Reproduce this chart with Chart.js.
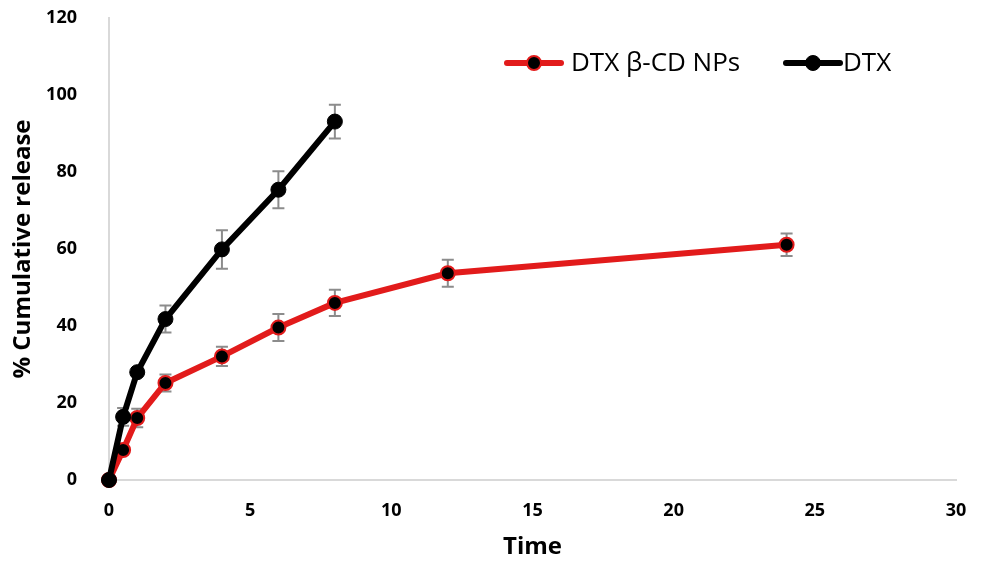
<!DOCTYPE html>
<html>
<head>
<meta charset="utf-8">
<script src="https://cdn.jsdelivr.net/npm/chart.js@4/dist/chart.umd.min.js"></script>
<style>
  html, body { margin: 0; padding: 0; background: #fff; }
  #chart { display: block; }
</style>
</head>
<body>
<canvas id="chart" width="981" height="562"></canvas>
<script>
// Datos
const nanoTime = [0, 0.5, 1, 2, 4, 6, 8, 12, 24];
const nanoRelease = [0, 7.8, 16.1, 25.2, 32.1, 39.6, 46.0, 53.7, 61.1];
const nanoError = [0, 1.0, 2.4, 2.2, 2.5, 3.5, 3.4, 3.5, 2.9];

const dtxTime = [0, 0.5, 1, 2, 4, 6, 8];
const dtxRelease = [0, 16.4, 28.0, 41.8, 59.9, 75.4, 93.1];
const dtxError = [0, 2.3, 1.0, 3.5, 5.0, 4.8, 4.4];

const xTicks = [0, 5, 10, 15, 20, 25, 30];
const yTicks = [0, 20, 40, 60, 80, 100, 120];

const toPoints = (xs, ys) => xs.map((x, i) => ({ x: x, y: ys[i] }));

// Barras de error (Chart.js no las trae de serie)
const errorBarPlugin = {
  id: 'errorBars',
  beforeDatasetsDraw(chart) {
    const ctx = chart.ctx;
    const yScale = chart.scales.y;
    ctx.save();
    ctx.strokeStyle = '#8c8c8c';
    ctx.lineWidth = 2;
    chart.data.datasets.forEach((ds, di) => {
      const meta = chart.getDatasetMeta(di);
      (ds.errors || []).forEach((e, i) => {
        if (!e) return;
        const pt = meta.data[i];
        const v = ds.data[i].y;
        const top = yScale.getPixelForValue(v + e);
        const bot = yScale.getPixelForValue(v - e);
        ctx.beginPath();
        ctx.moveTo(pt.x, top); ctx.lineTo(pt.x, bot);
        ctx.moveTo(pt.x - 6, top); ctx.lineTo(pt.x + 6, top);
        ctx.moveTo(pt.x - 6, bot); ctx.lineTo(pt.x + 6, bot);
        ctx.stroke();
      });
    });
    ctx.restore();
  }
};

// Leyenda estilo Excel: línea con marcador y texto
const lineLegendPlugin = {
  id: 'lineLegend',
  afterDraw(chart, args, opts) {
    const ctx = chart.ctx;
    ctx.save();
    ctx.font = opts.font;
    ctx.textBaseline = 'middle';
    opts.items.forEach(item => {
      const ds = chart.data.datasets[item.index];
      ctx.strokeStyle = ds.borderColor;
      ctx.lineWidth = 6;
      ctx.lineCap = 'round';
      ctx.beginPath();
      ctx.moveTo(item.x, opts.y);
      ctx.lineTo(item.x + opts.lineLength, opts.y);
      ctx.stroke();
      ctx.beginPath();
      ctx.arc(item.x + opts.lineLength / 2, opts.y, ds.pointRadius, 0, Math.PI * 2);
      ctx.fillStyle = ds.pointBackgroundColor;
      ctx.fill();
      ctx.lineWidth = ds.pointBorderWidth;
      ctx.strokeStyle = ds.pointBorderColor;
      ctx.stroke();
      ctx.fillStyle = '#000';
      ctx.fillText(ds.label, item.textX, opts.y + 1);
    });
    ctx.restore();
  }
};

const tickFont = { family: 'Open Sans', size: 18, weight: 'bold' };
const titleFont = { family: 'Open Sans', size: 24, weight: 'bold' };

new Chart(document.getElementById('chart'), {
  type: 'line',
  data: {
    datasets: [
      {
        label: 'DTX β-CD NPs',
        data: toPoints(nanoTime, nanoRelease),
        errors: nanoError,
        borderColor: '#e21b1b',
        borderWidth: 6,
        pointRadius: 7,
        pointBackgroundColor: '#000',
        pointBorderColor: '#e21b1b',
        pointBorderWidth: 2,
        tension: 0,
        clip: false,
        order: 1
      },
      {
        label: 'DTX',
        data: toPoints(dtxTime, dtxRelease),
        errors: dtxError,
        borderColor: '#000',
        borderWidth: 6,
        pointRadius: 7.5,
        pointBackgroundColor: '#000',
        pointBorderColor: '#000',
        pointBorderWidth: 1,
        tension: 0,
        clip: false,
        order: 0
      }
    ]
  },
  options: {
    responsive: false,
    animation: false,
    layout: { padding: { top: 18, right: 25, left: 0, bottom: 0 } },
    plugins: {
      legend: { display: false },
      tooltip: { enabled: false },
      lineLegend: {
        font: '26px "Open Sans"',
        y: 63,
        lineLength: 54,
        items: [
          { index: 0, x: 507, textX: 571 },
          { index: 1, x: 786, textX: 843 }
        ]
      }
    },
    scales: {
      x: {
        type: 'linear',
        min: xTicks[0],
        max: xTicks[xTicks.length - 1],
        afterBuildTicks: s => { s.ticks = xTicks.map(v => ({ value: v })); },
        afterFit: s => { s.height = 82; },
        grid: { display: false },
        border: { display: true, color: '#d9d9d9', width: 2 },
        ticks: { color: '#000', font: tickFont, padding: 12, maxRotation: 0 },
        title: { display: true, text: 'Time', color: '#000', font: titleFont, padding: { top: 0, bottom: 0 } }
      },
      y: {
        min: yTicks[0],
        max: yTicks[yTicks.length - 1],
        afterBuildTicks: s => { s.ticks = yTicks.map(v => ({ value: v })); },
        afterFit: s => { s.width = 109; s.paddingTop = 0; s.paddingBottom = 0; },
        grid: { display: false },
        border: { display: true, color: '#d9d9d9', width: 2 },
        ticks: { color: '#000', font: tickFont, padding: 24 },
        title: { display: true, text: '% Cumulative release', color: '#000', font: titleFont, padding: { top: 9, bottom: 0 } }
      }
    }
  },
  plugins: [errorBarPlugin, lineLegendPlugin]
});
</script>
</body>
</html>
